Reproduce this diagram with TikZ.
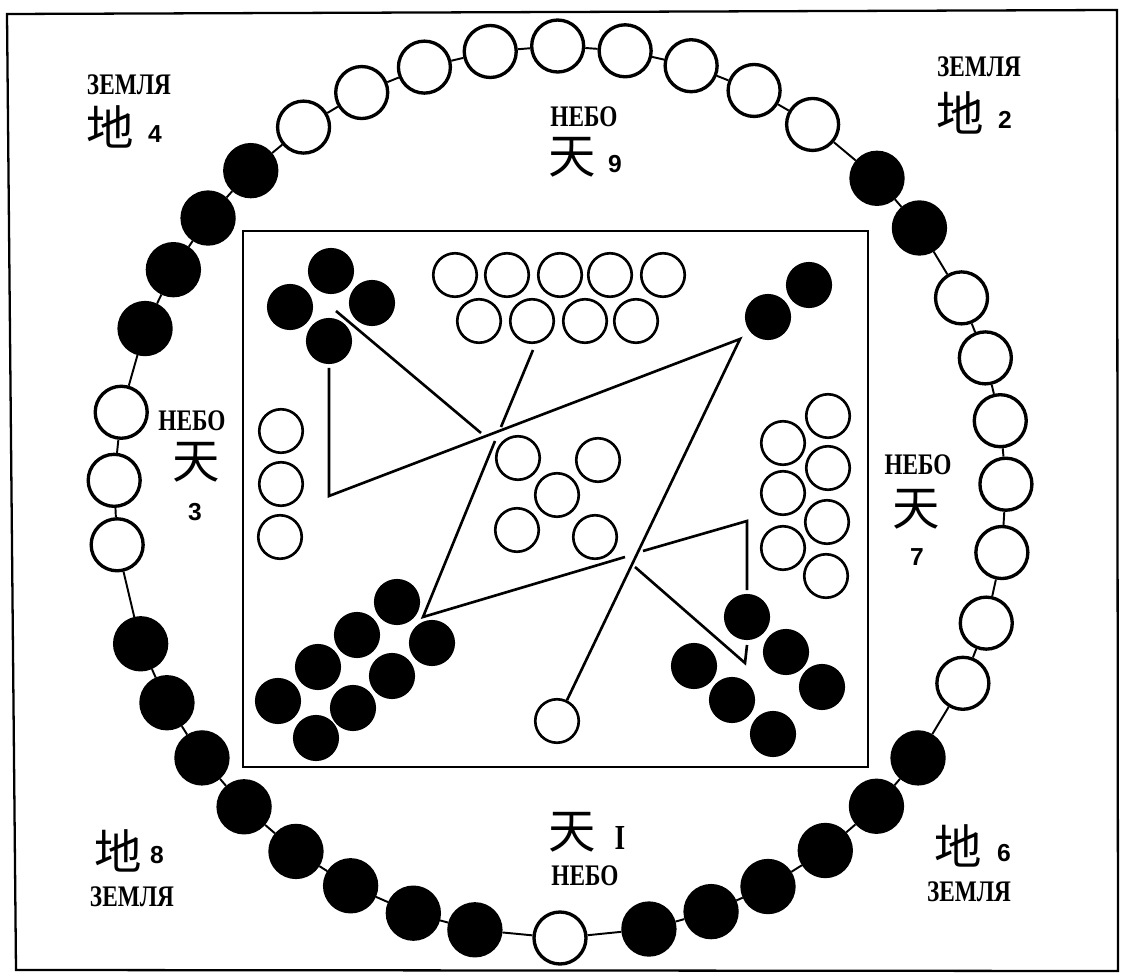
\documentclass[tikz,border=0pt]{standalone}
\usepackage{fontspec}
\setmainfont{Liberation Serif}
\newfontfamily\rusfont[FakeStretch=0.78]{Liberation Serif}
\newfontfamily\numfont{Liberation Sans}
\newfontfamily\hanfont{Noto Sans CJK SC}
\usepackage{tikz}

\begin{document}
\begin{tikzpicture}[x=0.02cm,y=-0.02cm,
  bead/.style={circle,draw,line width=1.9pt,minimum size=1.04cm,inner sep=0pt,fill=#1},
  dot/.style={circle,draw,line width=1.5pt,minimum size=0.87cm,inner sep=0pt,fill=#1},
  ring/.style={line width=1.1pt},
  trail/.style={line width=1.5pt},
  rus/.style={font=\rusfont\bfseries\fontsize{17}{17}\selectfont,inner sep=0pt},
  roman/.style={font=\rusfont\bfseries\fontsize{20}{20}\selectfont,inner sep=0pt},
  han/.style={font=\hanfont\fontsize{27}{27}\selectfont,inner sep=0pt},
  num/.style={font=\numfont\bfseries\fontsize{14}{14}\selectfont,inner sep=0pt}]
\useasboundingbox (0,0) rectangle (1122,979);
\draw[line width=1.3pt] (7,14) -- (1117,10) -- (1118,971) -- (16,970) -- cycle;
\draw[line width=1.4pt] (243,231) rectangle (868,767);

\foreach \a/\c [count=\i] in {270/white,259/black,250.8/black,242/black,233.7/black,224.9/black,216.6/black,208.2/black,199.9/black,
    186.8/white,178.5/white,169.7/white,158.5/black,150.1/black,142.1/black,133.9/black,
    125.1/white,116.4/white,107.7/white,99/white,90.3/white,81.6/white,72.9/white,64.2/white,55.5/white,
    44.7/black,36.3/black,25.8/white,17.5/white,9.2/white,1/white,-7.8/white,-17.1/white,-25.4/white,
    -36.6/black,-44.8/black,-53.5/black,-62.2/black,-70.2/black,-78.5/black}
  \node[bead=\c] (bead\i) at ({560+446*cos(\a)},{492-446*sin(\a)}) {};
\foreach \i [remember=\i as \j (initially 40)] in {1,...,40}
  \draw[ring] (bead\j) -- (bead\i);

\node[dot=white] (one) at (557,721) {};
\foreach \x/\y [count=\i] in {809/285,768/317}
  \node[dot=black] (two\i) at (\x,\y) {};
\foreach \x/\y [count=\i] in {281/431,281/484,280/537}
  \node[dot=white] (three\i) at (\x,\y) {};
\foreach \x/\y [count=\i] in {331/271,290/307,372/303,329/341}
  \node[dot=black] (four\i) at (\x,\y) {};
\foreach \x/\y [count=\i] in {518/458,598/460,557/495,517/530,595/537}
  \node[dot=white] (five\i) at (\x,\y) {};
\foreach \x/\y [count=\i] in {747/617,786/652,822/687,694/666,732/700,773/734}
  \node[dot=black] (six\i) at (\x,\y) {};
\foreach \x/\y [count=\i] in {828/416,783/443,828/468,783/493,827/522,783/548,826/576}
  \node[dot=white] (seven\i) at (\x,\y) {};
\foreach \x/\y [count=\i] in {397/602,357/635,318/667,278/701,432/643,392/676,353/708,316/738}
  \node[dot=black] (eight\i) at (\x,\y) {};
\foreach \x/\y [count=\i] in {455/275,507/275,560/275,610/275,663/275,479/321,532/321,585/321,636/321}
  \node[dot=white] (nine\i) at (\x,\y) {};

\coordinate (c2) at (740,339);
\coordinate (c3) at (329,496);
\coordinate (c4) at (329,368);
\coordinate (c5) at (336,311);
\coordinate (c6) at (481,433);
\coordinate (c7) at (635,567);
\coordinate (c8) at (745,663);
\coordinate (c9) at (747,645);
\coordinate (c10) at (747,590);
\coordinate (c11) at (747,521);
\coordinate (c12) at (643,551);
\coordinate (c13) at (625,557);
\coordinate (c14) at (423,617);
\coordinate (c15) at (495,441);
\coordinate (c16) at (501,427);
\coordinate (c17) at (533,350);
\draw[trail] (one) -- (c2) -- (c3) -- (c4);
\draw[trail] (c5) -- (c6);
\draw[trail] (c7) -- (c8) -- (c9);
\draw[trail] (c10) -- (c11) -- (c12);
\draw[trail] (c13) -- (c14) -- (c15);
\draw[trail] (c16) -- (c17);

\node[rus] (zemTL) at (129,85) {ЗЕМЛЯ};
\node[han] (diTL) at (110,127) {地};
\node[num] (numTL) at (155,134) {4};
\node[rus] (nebT) at (584,117) {НЕБО};
\node[han] (tianT) at (572,157) {天};
\node[num] (numT) at (615,164) {9};
\node[rus] (zemTR) at (979,67) {ЗЕМЛЯ};
\node[han] (diTR) at (960,113) {地};
\node[num] (numTR) at (1005,120) {2};
\node[rus] (nebL) at (192,421) {НЕБО};
\node[han] (tianL) at (196,462) {天};
\node[num] (numL) at (195,512) {3};
\node[rus] (nebR) at (918,465) {НЕБО};
\node[han] (tianR) at (916,509) {天};
\node[num] (numR) at (917,557) {7};
\node[han] (diBR) at (958,846) {地};
\node[num] (numBR) at (1004,853) {6};
\node[rus] (zemBR) at (969,892) {ЗЕМЛЯ};
\node[han] (tianB) at (572,832) {天};
\node[roman] (numB) at (620,838) {I};
\node[rus] (nebB) at (585,876) {НЕБО};
\node[han] (diBL) at (118,851) {地};
\node[num] (numBL) at (157,855) {8};
\node[rus] (zemBL) at (132,897) {ЗЕМЛЯ};
\end{tikzpicture}
\end{document}
